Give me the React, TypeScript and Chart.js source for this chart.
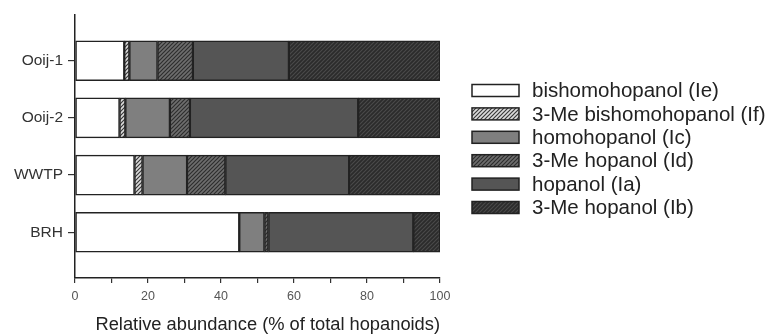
import React, { useEffect, useRef } from "react";
import { Chart, registerables } from "chart.js";

Chart.register(...registerables);

const categories = ["Ooij-1", "Ooij-2", "WWTP", "BRH"];
const seriesNames = [
  "bishomohopanol (Ie)",
  "3-Me bishomohopanol (If)",
  "homohopanol (Ic)",
  "3-Me hopanol (Id)",
  "hopanol (Ia)",
  "3-Me hopanol (Ib)",
];
const bishomohopanolIe = [13.5, 12.2, 16.3, 45.0];
const meBishomohopanolIf = [1.4, 1.6, 2.2, 0];
const homohopanolIc = [7.7, 12.2, 12.2, 6.9];
const meHopanolId = [9.7, 5.5, 10.5, 1.1];
const hopanolIa = [26.3, 46.1, 33.9, 39.7];
const meHopanolIb = [41.4, 22.4, 24.9, 7.3];
const seriesValues = [
  bishomohopanolIe,
  meBishomohopanolIf,
  homohopanolIc,
  meHopanolId,
  hopanolIa,
  meHopanolIb,
];
const xTickValues = [0, 20, 40, 60, 80, 100];

const FONT = "'Liberation Sans', Arial, Helvetica, sans-serif";

function makePattern(bg: string, line: string | null): CanvasPattern | string {
  if (!line) return bg;
  const s = 4;
  const c = document.createElement("canvas");
  c.width = s;
  c.height = s;
  const ctx = c.getContext("2d")!;
  ctx.fillStyle = bg;
  ctx.fillRect(0, 0, s, s);
  ctx.strokeStyle = line;
  ctx.lineWidth = 1.2;
  ctx.beginPath();
  ctx.moveTo(0, s);
  ctx.lineTo(s, 0);
  ctx.moveTo(-1, 1);
  ctx.lineTo(1, -1);
  ctx.moveTo(s - 1, s + 1);
  ctx.lineTo(s + 1, s - 1);
  ctx.stroke();
  const ctx2 = document.createElement("canvas").getContext("2d")!;
  return ctx2.createPattern(c, "repeat")!;
}

export default function App() {
  const ref = useRef<HTMLCanvasElement | null>(null);

  useEffect(() => {
    const canvas = ref.current;
    if (!canvas) return;
    const fills = [
      makePattern("#ffffff", null),
      makePattern("#dcdcdc", "#3a3a3a"),
      makePattern("#7f7f7f", null),
      makePattern("#6e6e6e", "#2e2e2e"),
      makePattern("#555555", null),
      makePattern("#2b2b2b", "#4a4a4a"),
    ];

    const legendPlugin = {
      id: "customLegend",
      afterDraw(chart: any) {
        const ctx = chart.ctx;
        ctx.save();
        const x0 = 472;
        const y0 = 90.5;
        const dy = 23.4;
        seriesNames.forEach((name, i) => {
          const cy = y0 + i * dy;
          ctx.fillStyle = fills[i] as any;
          ctx.fillRect(x0, cy - 6, 47, 12);
          ctx.lineWidth = 1.5;
          ctx.strokeStyle = "#222";
          ctx.strokeRect(x0, cy - 6, 47, 12);
          ctx.fillStyle = "#222";
          ctx.font = `20.5px ${FONT}`;
          ctx.textBaseline = "middle";
          ctx.textAlign = "left";
          ctx.fillText(name, 532, cy + 1);
        });
        ctx.restore();
      },
    };

    const chart = new Chart(canvas, {
      type: "bar",
      data: {
        datasets: seriesNames.map((name, si) => ({
          label: name,
          data: seriesValues[si].map((v, ci) => ({ x: v, y: ci })),
          backgroundColor: fills[si] as any,
          borderColor: "#222",
          borderWidth: 1.5,
          borderSkipped: false,
          barThickness: 40,
        })),
      },
      options: {
        indexAxis: "y",
        animation: false,
        responsive: false,
        layout: { padding: { left: 0, top: 15, right: 332, bottom: 0 } },
        plugins: { legend: { display: false }, tooltip: { enabled: false } },
        scales: {
          x: {
            type: "linear",
            stacked: true,
            min: 0,
            max: 100,
            afterFit: (s: any) => {
              s.height = 58;
            },
            ticks: {
              stepSize: 10,
              autoSkip: false,
              maxRotation: 0,
              padding: 6,
              color: "#555",
              font: { family: FONT, size: 12.5 },
              callback: (v: any) => (xTickValues.includes(v) ? String(v) : ""),
            },
            grid: {
              drawOnChartArea: false,
              drawTicks: true,
              tickLength: 5,
              color: "#333",
              lineWidth: 1.2,
            },
            border: { display: true, color: "#222", width: 1.5 },
            title: {
              display: true,
              text: "Relative abundance (% of total hopanoids)",
              align: "end",
              color: "#222",
              font: { family: FONT, size: 18.3 },
              padding: { top: 0, bottom: 0 },
            },
          },
          y: {
            type: "linear",
            stacked: true,
            reverse: true,
            offset: false,
            min: -0.8,
            max: 3.8,
            afterFit: (s: any) => {
              s.width = 75;
            },
            afterBuildTicks: (axis: any) => {
              axis.ticks = categories.map((_, i) => ({ value: i }));
            },
            ticks: {
              autoSkip: false,
              padding: 5,
              color: "#333",
              font: { family: FONT, size: 15.5 },
              callback: (v: any) => categories[v] ?? "",
            },
            grid: {
              offset: false,
              drawOnChartArea: false,
              drawTicks: true,
              tickLength: 7,
              color: "#333",
              lineWidth: 1.2,
            },
            border: { display: true, color: "#222", width: 1.5 },
          },
        },
      } as any,
      plugins: [legendPlugin],
    });
    return () => chart.destroy();
  }, []);

  return (
    <div style={{ position: "fixed", left: 0, top: 0, width: 772, height: 336, background: "#fff" }}>
      <canvas ref={ref} width={772} height={336} style={{ display: "block" }} />
    </div>
  );
}
